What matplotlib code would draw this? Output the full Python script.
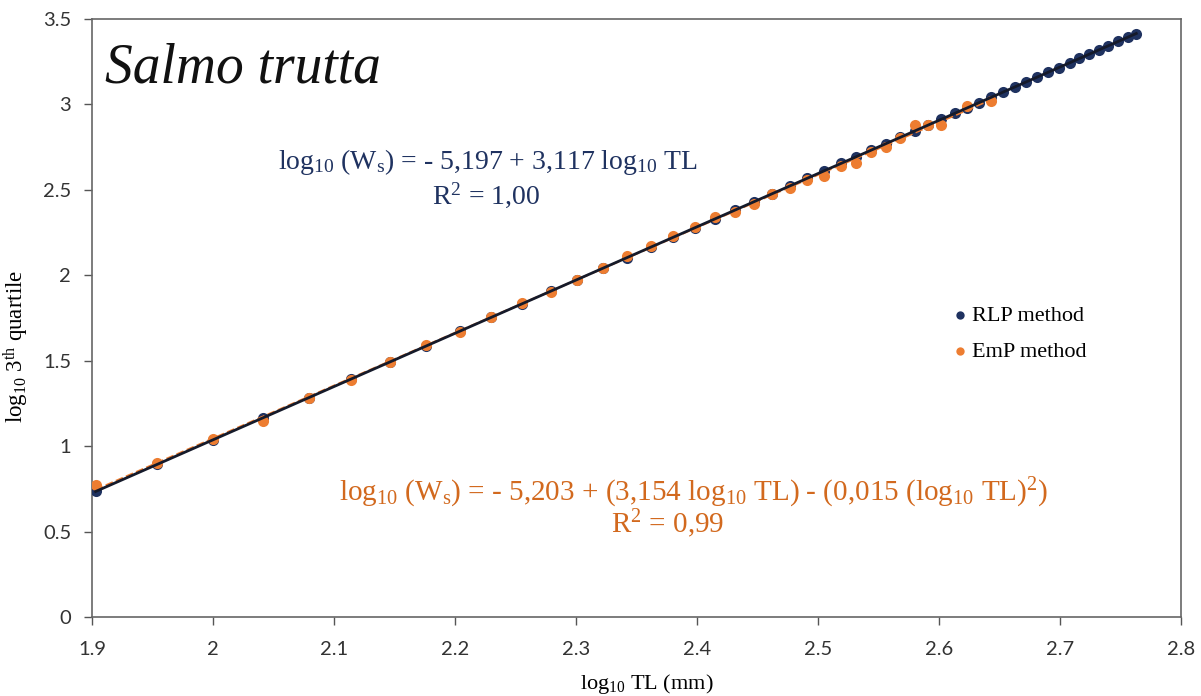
import matplotlib
matplotlib.use("Agg")
import matplotlib.pyplot as plt
import numpy as np

# log10 TL (mm) for each length class
rlp_x = [1.903, 1.954, 2.000, 2.041, 2.079, 2.114, 2.146, 2.176, 2.204, 2.230,
         2.255, 2.279, 2.301, 2.322, 2.342, 2.362, 2.380, 2.398, 2.415, 2.431,
         2.447, 2.462, 2.477, 2.491, 2.505, 2.519, 2.531, 2.544, 2.556, 2.568,
         2.580, 2.591, 2.602, 2.613, 2.623, 2.633, 2.643, 2.653, 2.663, 2.672,
         2.681, 2.690, 2.699, 2.708, 2.716, 2.724, 2.732, 2.740, 2.748, 2.756,
         2.763]
rlp_y = [0.735, 0.894, 1.037, 1.165, 1.283, 1.392, 1.492, 1.586, 1.673, 1.754,
         1.832, 1.907, 1.975, 2.041, 2.103, 2.165, 2.222, 2.278, 2.331, 2.380,
         2.430, 2.477, 2.524, 2.567, 2.611, 2.655, 2.692, 2.733, 2.770, 2.808,
         2.845, 2.879, 2.913, 2.948, 2.979, 3.010, 3.041, 3.072, 3.104, 3.132,
         3.160, 3.188, 3.216, 3.244, 3.269, 3.294, 3.319, 3.344, 3.369, 3.394,
         3.415]

emp_x = [1.903, 1.954, 2.000, 2.041, 2.079, 2.114, 2.146, 2.176, 2.204, 2.230,
         2.255, 2.279, 2.301, 2.322, 2.342, 2.362, 2.380, 2.398, 2.415, 2.431,
         2.447, 2.462, 2.477, 2.491, 2.505, 2.519, 2.531, 2.544, 2.556, 2.568,
         2.580, 2.591, 2.602, 2.623, 2.643]
emp_y = [0.77, 0.90, 1.04, 1.15, 1.28, 1.39, 1.49, 1.59, 1.67, 1.755,
         1.84, 1.905, 1.975, 2.045, 2.11, 2.17, 2.23, 2.28, 2.34, 2.37,
         2.42, 2.475, 2.51, 2.56, 2.58, 2.64, 2.66, 2.72, 2.75, 2.805,
         2.88, 2.88, 2.88, 2.99, 3.02]

# fitted equations printed on the chart
lin_a, lin_b = -5.197, 3.117
quad_a, quad_b, quad_c = -5.203, 3.154, -0.015

navy = "#1f3260"
orange = "#ed7d31"
serif = "Liberation Serif"

plt.rcParams["mathtext.fontset"] = "custom"
plt.rcParams["mathtext.rm"] = serif
plt.rcParams["mathtext.it"] = serif + ":italic"

fig = plt.figure(figsize=(12.01, 6.96), dpi=100)
ax = fig.add_axes([0.0766, 0.1135, 0.9068, 0.8592])

ax.scatter(rlp_x, rlp_y, s=64, color=navy, zorder=3, label="RLP method", linewidths=0)
ax.scatter(emp_x, emp_y, s=64, color=orange, zorder=4, label="EmP method", linewidths=0)

xq = np.array(emp_x)
ax.plot(xq, quad_a + quad_b * xq + quad_c * xq ** 2, color=orange, ls="--", lw=1.5, zorder=5)
xl = np.array([rlp_x[0], rlp_x[-1]])
ax.plot(xl, lin_a + lin_b * xl, color="#151a2a", lw=2, zorder=6)

ax.set_xlim(1.9, 2.8)
ax.set_ylim(0, 3.5)
ax.set_xticks(np.arange(1.9, 2.81, 0.1))
ax.set_xticklabels(["1.9", "2", "2.1", "2.2", "2.3", "2.4", "2.5", "2.6", "2.7", "2.8"])
ax.set_yticks(np.arange(0, 3.51, 0.5))
ax.set_yticklabels(["0", "0.5", "1", "1.5", "2", "2.5", "3", "3.5"])
ax.tick_params(direction="out", length=6, width=1, color="#555555",
               labelsize=14.5, labelcolor="#333333")
ax.tick_params(axis="x", pad=11)
ax.tick_params(axis="y", pad=9)
for lab in ax.get_xticklabels() + ax.get_yticklabels():
    lab.set_family("Lato")
for sp in ax.spines.values():
    sp.set_color("#666666")
    sp.set_linewidth(1.2)

ax.set_xlabel(r"log$_{10}$ TL (mm)", family=serif, fontsize=16)
ax.set_ylabel(r"log$_{10}$ 3$^{\rm th}$ quartile", family=serif, fontsize=16.5)
ax.xaxis.set_label_coords(0.509, -0.092)
ax.yaxis.set_label_coords(-0.056, 0.453)

ax.text(0.012, 0.918, "Salmo trutta", transform=ax.transAxes, family=serif,
        style="italic", fontsize=40, va="center", ha="left", color="#111111")

ax.text(0.3636, 0.761, r"log$_{10}$ (W$_{\rm s}$) = - 5,197 + 3,117 log$_{10}$ TL",
        transform=ax.transAxes, family=serif, fontsize=20, color=navy,
        ha="center", va="center")
ax.text(0.3618, 0.706, r"R$^{2}$ = 1,00", transform=ax.transAxes,
        family=serif, fontsize=20, color=navy, ha="center", va="center")

ax.text(0.5519, 0.208,
        r"log$_{10}$ (W$_{\rm s}$) = - 5,203 + (3,154 log$_{10}$ TL) - (0,015 (log$_{10}$ TL)$^{2}$)",
        transform=ax.transAxes, family=serif, fontsize=21, color="#d2691e",
        ha="center", va="center")
ax.text(0.529, 0.156, r"R$^{2}$ = 0,99", transform=ax.transAxes,
        family=serif, fontsize=21, color="#d2691e", ha="center", va="center")

leg = ax.legend(loc="center left", bbox_to_anchor=(0.768, 0.474), frameon=False,
                prop={"family": serif, "size": 16}, handletextpad=0.05,
                markerscale=0.75, labelspacing=0.7, handlelength=1.0)

fig.savefig("out.png", dpi=100)
